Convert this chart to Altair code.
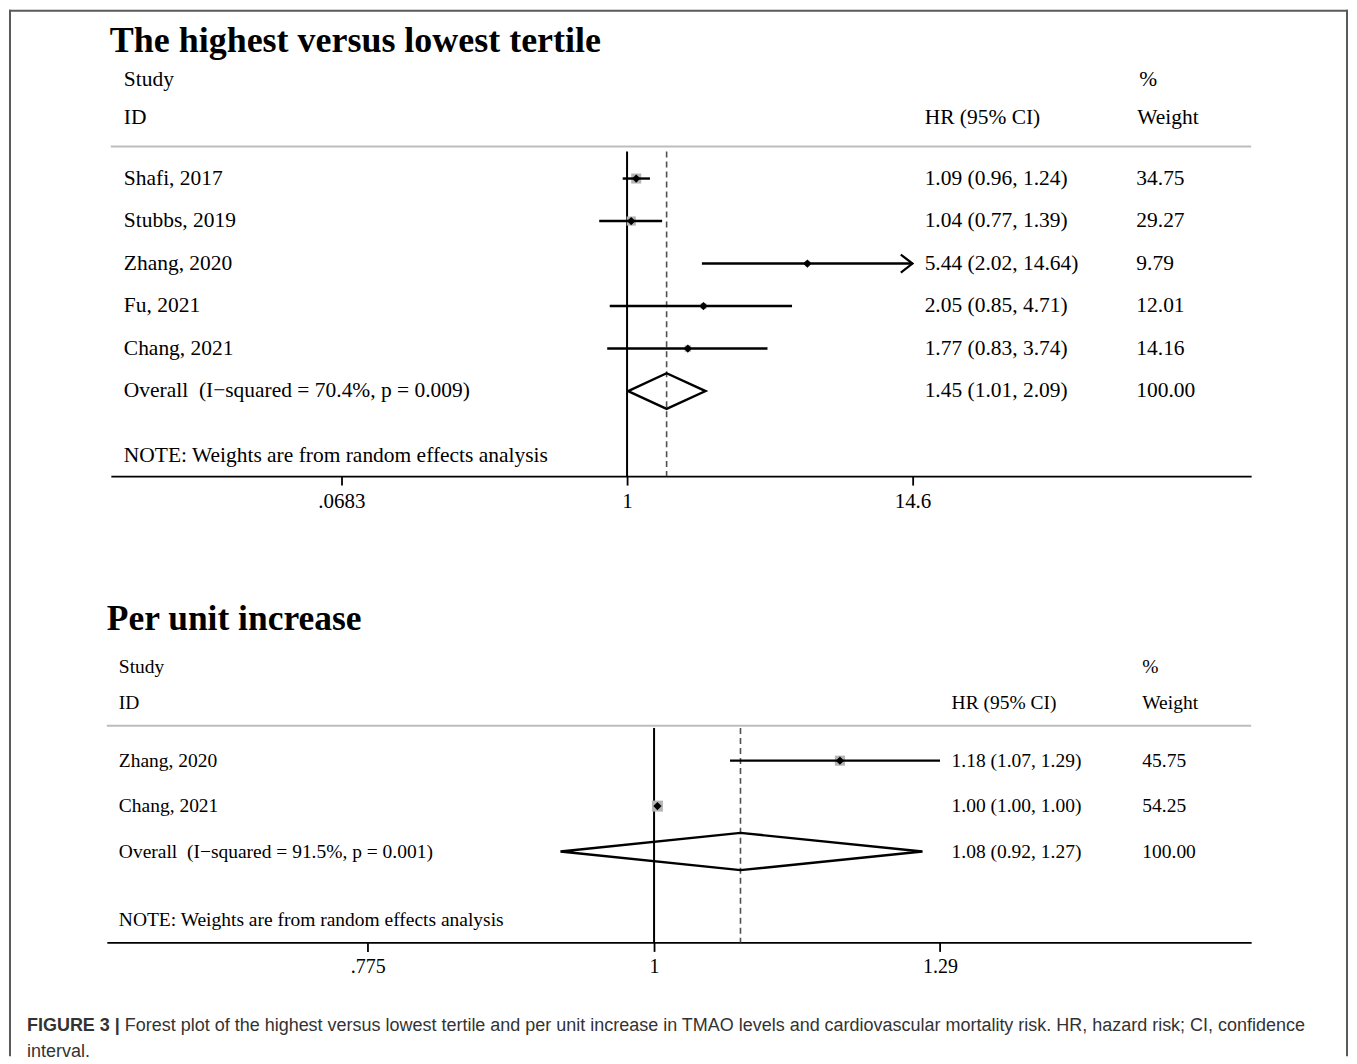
import altair as alt
import pandas as pd

# ---------------- data ----------------
p1_title = "The highest versus lowest tertile"
p1_names = ["Shafi, 2017", "Stubbs, 2019", "Zhang, 2020", "Fu, 2021", "Chang, 2021"]
p1_hr = [1.09, 1.04, 5.44, 2.05, 1.77]
p1_lo = [0.96, 0.77, 2.02, 0.85, 0.83]
p1_hi = [1.24, 1.39, 14.64, 4.71, 3.74]
p1_weight = [34.75, 29.27, 9.79, 12.01, 14.16]
p1_overall = [1.45, 1.01, 2.09]
p1_overall_label = "Overall\u00a0\u00a0(I\u2212squared = 70.4%, p = 0.009)"
p1_ticks = [0.0683, 1, 14.6]

p2_title = "Per unit increase"
p2_names = ["Zhang, 2020", "Chang, 2021"]
p2_hr = [1.18, 1.003]
p2_lo = [1.07, 1.003]
p2_hi = [1.29, 1.003]
p2_weight = [45.75, 54.25]
p2_overall = [1.08, 0.92, 1.27]
p2_overall_label = "Overall\u00a0\u00a0(I\u2212squared = 91.5%, p = 0.001)"
p2_ticks = [0.775, 1, 1.29]

note_text = "NOTE: Weights are from random effects analysis"
hdr_study, hdr_id, hdr_hr, hdr_pct, hdr_weight = "Study", "ID", "HR (95% CI)", "%", "Weight"
null_value = 1

caption_bold = "FIGURE 3 |"
caption_line1 = ("Forest plot of the highest versus lowest tertile and per unit increase in TMAO "
                 "levels and cardiovascular mortality risk. HR, hazard risk; CI, confidence")
caption_line2 = "interval."

# ---------------- layout ----------------
W, H = 1341, 1048
SERIF = "Liberation Serif"
SANS = "Liberation Sans"


def fmt_hr(h, l, u):
    return f"{h:.2f} ({l:.2f}, {u:.2f})"


def build_panel(title, names, hr, lo, hi, weight, overall, overall_label, ticks, L):
    n = len(names)
    xs = alt.Scale(type="log", domain=L["xdom"], range=L["xrange"], nice=False)
    ys = alt.Scale(domain=L["ydom"], range=L["yrange"], nice=False, zero=False)
    ax = alt.Axis(
        values=ticks, orient="bottom", offset=-(H - L["yrange"][1]), grid=False, title=None,
        labelExpr="datum.value < 1 ? replace(toString(datum.value), '0.', '.') : toString(datum.value)",
        domainColor="black", domainWidth=1.8, tickColor="black", tickWidth=1.8, tickSize=9,
        labelFont=SERIF, labelFontSize=L["tick_fs"], labelColor="black", labelPadding=5,
        labelOverlap=False, labelFlush=False, labelBound=False,
    )

    def X(f):
        return alt.X(f, type="quantitative", scale=xs, axis=ax)

    def Y(f):
        return alt.Y(f, type="quantitative", scale=ys, axis=None)

    xmax_tick = ticks[-1]
    studies = pd.DataFrame({
        "row": list(range(n)),
        "hr": hr,
        "lo": lo,
        "hi_draw": [min(h, xmax_tick) for h in hi],
        "box": [w * L["box_k"] for w in weight],
    })
    arrows = pd.DataFrame({
        "row": [i for i in range(n) if hi[i] > xmax_tick],
        "x": [xmax_tick for i in range(n) if hi[i] > xmax_tick],
    })
    texts = pd.DataFrame({
        "row": list(range(n + 1)),
        "name": names + [overall_label],
        "hrtxt": [fmt_hr(hr[i], lo[i], hi[i]) for i in range(n)] + [fmt_hr(*overall)],
        "wtxt": [f"{w:.2f}" for w in weight] + ["100.00"],
    })
    est, olo, ohi = overall
    dh = L["dia_h"]
    diamond = pd.DataFrame({
        "x": [olo, est, ohi, est, olo],
        "y": [n, n - dh, n, n + dh, n],
        "order": [0, 1, 2, 3, 4],
    })
    axis_r = L["ydom"][1]
    vsolid = pd.DataFrame({"x": [null_value], "y": [L["vtop"]], "y2": [axis_r]})
    vdash = pd.DataFrame({"x": [est], "y": [L["vtop"]], "y2": [axis_r]})
    sep = pd.DataFrame({"x": [L["xdom"][0]], "x2": [L["xdom"][1]], "y": [L["sep_r"]]})

    fs = L["fs"]
    layers = [
        alt.Chart(sep).mark_rule(color="#bdbdbd", strokeWidth=2).encode(
            x=X("x"), x2="x2", y=Y("y")),
        alt.Chart(vsolid).mark_rule(color="black", strokeWidth=2).encode(
            x=X("x"), y=Y("y"), y2="y2"),
        alt.Chart(vdash).mark_rule(color="#505050", strokeWidth=1.6, strokeDash=[6, 4]).encode(
            x=X("x"), y=Y("y"), y2="y2"),
        alt.Chart(studies).mark_square(color="#b4b4b4", opacity=1).encode(
            x=X("hr"), y=Y("row"), size=alt.Size("box:Q", scale=None)),
        alt.Chart(studies).mark_rule(color="black", strokeWidth=2.4).encode(
            x=X("lo"), x2="hi_draw", y=Y("row")),
        alt.Chart(arrows).mark_point(shape="M -1.3 -1 L 0 0 L -1.3 1", filled=False,
                                     stroke="black", strokeWidth=2.2, size=324, opacity=1).encode(
            x=X("x"), y=Y("row")),
        alt.Chart(studies).mark_point(shape="diamond", filled=True, color="black",
                                      size=68, opacity=1).encode(
            x=X("hr"), y=Y("row")),
        alt.Chart(diamond).mark_line(color="black", strokeWidth=2.4).encode(
            x=X("x"), y=Y("y"), order="order:O"),
        alt.Chart(texts).mark_text(align="left", baseline="middle", font=SERIF, fontSize=fs,
                                   color="black").encode(
            x=alt.value(L["col_name"]), y=Y("row"), text="name:N"),
        alt.Chart(texts).mark_text(align="left", baseline="middle", font=SERIF, fontSize=fs,
                                   color="black").encode(
            x=alt.value(L["col_hr"]), y=Y("row"), text="hrtxt:N"),
        alt.Chart(texts).mark_text(align="left", baseline="middle", font=SERIF, fontSize=fs,
                                   color="black").encode(
            x=alt.value(L["col_w"]), y=Y("row"), text="wtxt:N"),
    ]
    one = pd.DataFrame({"a": [0]})

    def label(txt, x, y, **kw):
        props = dict(align="left", baseline="middle", font=SERIF, fontSize=fs, color="black")
        props.update(kw)
        return alt.Chart(one).mark_text(text=txt, **props).encode(x=alt.value(x), y=alt.value(y))

    layers += [
        label(title, L["title_x"], L["title_y"], fontSize=L["title_fs"], fontWeight="bold"),
        label(hdr_study, L["col_name"], L["hdr1_y"]),
        label(hdr_id, L["col_name"], L["hdr2_y"]),
        label(hdr_hr, L["col_hr"], L["hdr2_y"]),
        label(hdr_pct, L["col_pct"], L["hdr1_y"]),
        label(hdr_weight, L["col_w_hdr"], L["hdr2_y"]),
        label(note_text, L["col_name"], L["note_y"]),
    ]
    return alt.layer(*layers)


L1 = dict(xdom=[0.00784, 351.4], xrange=[102, 1244], ydom=[0, 7], yrange=[169, 467],
          fs=21.5, tick_fs=21, box_k=2.9, dia_h=0.42, vtop=-0.634, sep_r=-0.752,
          col_name=115, col_hr=917, col_w=1129, col_pct=1132, col_w_hdr=1130,
          title_x=101, title_y=31, title_fs=36, hdr1_y=70, hdr2_y=108, note_y=447)
L2 = dict(xdom=[0.6143, 1.7018], xrange=[98, 1244], ydom=[0, 4], yrange=[752, 934],
          fs=19.5, tick_fs=20, box_k=2.23, dia_h=0.41, vtop=-0.72, sep_r=-0.769,
          col_name=110, col_hr=944, col_w=1135, col_pct=1135, col_w_hdr=1135,
          title_x=98, title_y=610, title_fs=35.5, hdr1_y=658, hdr2_y=694, note_y=912)

panel1 = build_panel(p1_title, p1_names, p1_hr, p1_lo, p1_hi, p1_weight, p1_overall,
                     p1_overall_label, p1_ticks, L1)
panel2 = build_panel(p2_title, p2_names, p2_hr, p2_lo, p2_hi, p2_weight, p2_overall,
                     p2_overall_label, p2_ticks, L2)

one = pd.DataFrame({"a": [0]})
border_col = "#5a5a5a"
deco = alt.layer(
    alt.Chart(one).mark_rule(color=border_col, strokeWidth=2).encode(
        x=alt.value(0), x2=alt.value(W), y=alt.value(1)),
    alt.Chart(one).mark_rule(color=border_col, strokeWidth=2).encode(
        x=alt.value(1), y=alt.value(0), y2=alt.value(H)),
    alt.Chart(one).mark_rule(color=border_col, strokeWidth=2).encode(
        x=alt.value(W - 1), y=alt.value(0), y2=alt.value(H)),
    alt.Chart(one).mark_text(text=caption_bold, align="left", baseline="middle", font=SANS,
                             fontSize=18, fontWeight="bold", color="#333333").encode(
        x=alt.value(18), y=alt.value(1018)),
    alt.Chart(one).mark_text(text=caption_line1, align="left", baseline="middle", font=SANS,
                             fontSize=18, color="#333333").encode(
        x=alt.value(116), y=alt.value(1018)),
    alt.Chart(one).mark_text(text=caption_line2, align="left", baseline="middle", font=SANS,
                             fontSize=18, color="#333333").encode(
        x=alt.value(18), y=alt.value(1044)),
)

chart = alt.layer(panel1, panel2, deco).resolve_scale(
    x="independent", y="independent", size="independent"
).properties(width=W, height=H, padding=0).configure_view(stroke=None)

chart.save("out.html", embed_options={"renderer": "svg", "actions": False})
